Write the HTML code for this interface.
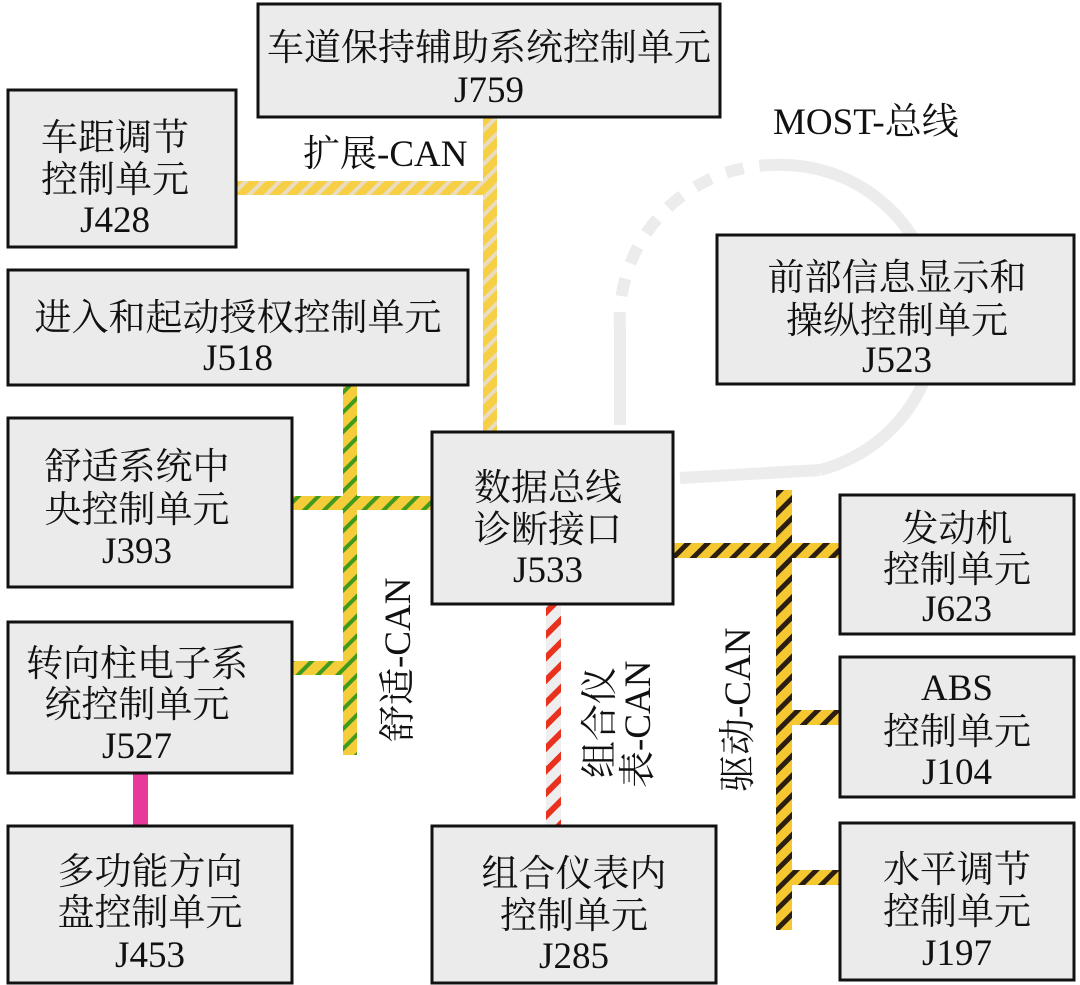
<!DOCTYPE html>
<html><head><meta charset="utf-8"><style>
html,body{margin:0;padding:0;background:#fff;width:1080px;height:985px;overflow:hidden}
svg text{font-family:"Liberation Serif","Noto Serif CJK SC",serif;font-size:37px;fill:#111}
</style></head><body>
<svg width="1080" height="985" viewBox="0 0 1080 985" xmlns="http://www.w3.org/2000/svg">
<defs>
<pattern id="pExt" width="12" height="12" patternUnits="userSpaceOnUse" patternTransform="rotate(45)"><rect width="12" height="12" fill="#f7cf45"/><rect width="4" height="12" fill="#eadcc0"/></pattern>
<pattern id="pCom" width="14" height="14" patternUnits="userSpaceOnUse" patternTransform="rotate(45)"><rect width="14" height="14" fill="#f5cd3a"/><rect width="4" height="14" fill="#3f9a1e"/></pattern>
<pattern id="pDrv" width="14" height="14" patternUnits="userSpaceOnUse" patternTransform="rotate(45)"><rect width="14" height="14" fill="#f5c832"/><rect width="5" height="14" fill="#2a1e10"/></pattern>
<pattern id="pKom" width="16" height="16" patternUnits="userSpaceOnUse" patternTransform="rotate(45)"><rect width="16" height="16" fill="#eeeeee"/><rect width="6" height="16" fill="#e8321e"/></pattern>
</defs>
<g fill="none" stroke="#ececec" stroke-width="12">
<path d="M620 425 L620 330" />
<path d="M620 330 A155 155 0 0 1 775 165" stroke-dasharray="18 16"/>
<path d="M775 165 A155 155 0 0 1 820 470" />
<path d="M820 470 L680 478" />
</g>
<rect x="483" y="117" width="14" height="315" fill="url(#pExt)"/>
<rect x="236" y="181" width="261" height="14" fill="url(#pExt)"/>
<rect x="343" y="385" width="14" height="370" fill="url(#pCom)"/>
<rect x="292" y="496" width="140" height="14" fill="url(#pCom)"/>
<rect x="292" y="661" width="65" height="14" fill="url(#pCom)"/>
<rect x="776" y="490" width="16" height="440" fill="url(#pDrv)"/>
<rect x="673" y="543" width="167" height="15" fill="url(#pDrv)"/>
<rect x="783" y="710" width="57" height="15" fill="url(#pDrv)"/>
<rect x="783" y="870" width="57" height="15" fill="url(#pDrv)"/>
<rect x="546" y="604" width="15" height="222" fill="url(#pKom)"/>
<rect x="133" y="773" width="15" height="53" fill="#e83a9a"/>
<g fill="#ebebeb" stroke="#111" stroke-width="3">
<rect x="258" y="4" width="462" height="113"/>
<rect x="8" y="90" width="228" height="157"/>
<rect x="8" y="270" width="460" height="115"/>
<rect x="8" y="418" width="284" height="169"/>
<rect x="8" y="622" width="284" height="151"/>
<rect x="8" y="826" width="284" height="157"/>
<rect x="432" y="432" width="241" height="172"/>
<rect x="717" y="235" width="357" height="149"/>
<rect x="840" y="495" width="234" height="139"/>
<rect x="840" y="657" width="234" height="140"/>
<rect x="840" y="823" width="234" height="157"/>
<rect x="432" y="826" width="284" height="157"/>
</g>
<g text-anchor="middle">
<text x="489" y="60">车道保持辅助系统控制单元</text><text x="489" y="102">J759</text>
<text x="115" y="150">车距调节</text><text x="115" y="192">控制单元</text><text x="115" y="232">J428</text>
<text x="238" y="330">进入和起动授权控制单元</text><text x="238" y="370">J518</text>
<text x="137" y="479">舒适系统中</text><text x="137" y="522">央控制单元</text><text x="137" y="563">J393</text>
<text x="137" y="676">转向柱电子系</text><text x="137" y="717">统控制单元</text><text x="137" y="758">J527</text>
<text x="150" y="884">多功能方向</text><text x="150" y="925">盘控制单元</text><text x="150" y="967">J453</text>
<text x="548" y="500">数据总线</text><text x="548" y="542">诊断接口</text><text x="548" y="582">J533</text>
<text x="897" y="290">前部信息显示和</text><text x="897" y="333">操纵控制单元</text><text x="897" y="372">J523</text>
<text x="957" y="541">发动机</text><text x="957" y="582">控制单元</text><text x="957" y="621">J623</text>
<text x="957" y="700">ABS</text><text x="957" y="744">控制单元</text><text x="957" y="784">J104</text>
<text x="957" y="882">水平调节</text><text x="957" y="924">控制单元</text><text x="957" y="965">J197</text>
<text x="574" y="886">组合仪表内</text><text x="574" y="928">控制单元</text><text x="574" y="968">J285</text>
</g>
<text x="303" y="166">扩展-CAN</text>
<text x="773" y="134">MOST-总线</text>
<text transform="translate(410,742) rotate(-90)">舒适-CAN</text>
<text transform="translate(612,778) rotate(-90)">组合仪</text>
<text transform="translate(650,788) rotate(-90)">表-CAN</text>
<text transform="translate(750,792) rotate(-90)">驱动-CAN</text>
</svg>
</body></html>
